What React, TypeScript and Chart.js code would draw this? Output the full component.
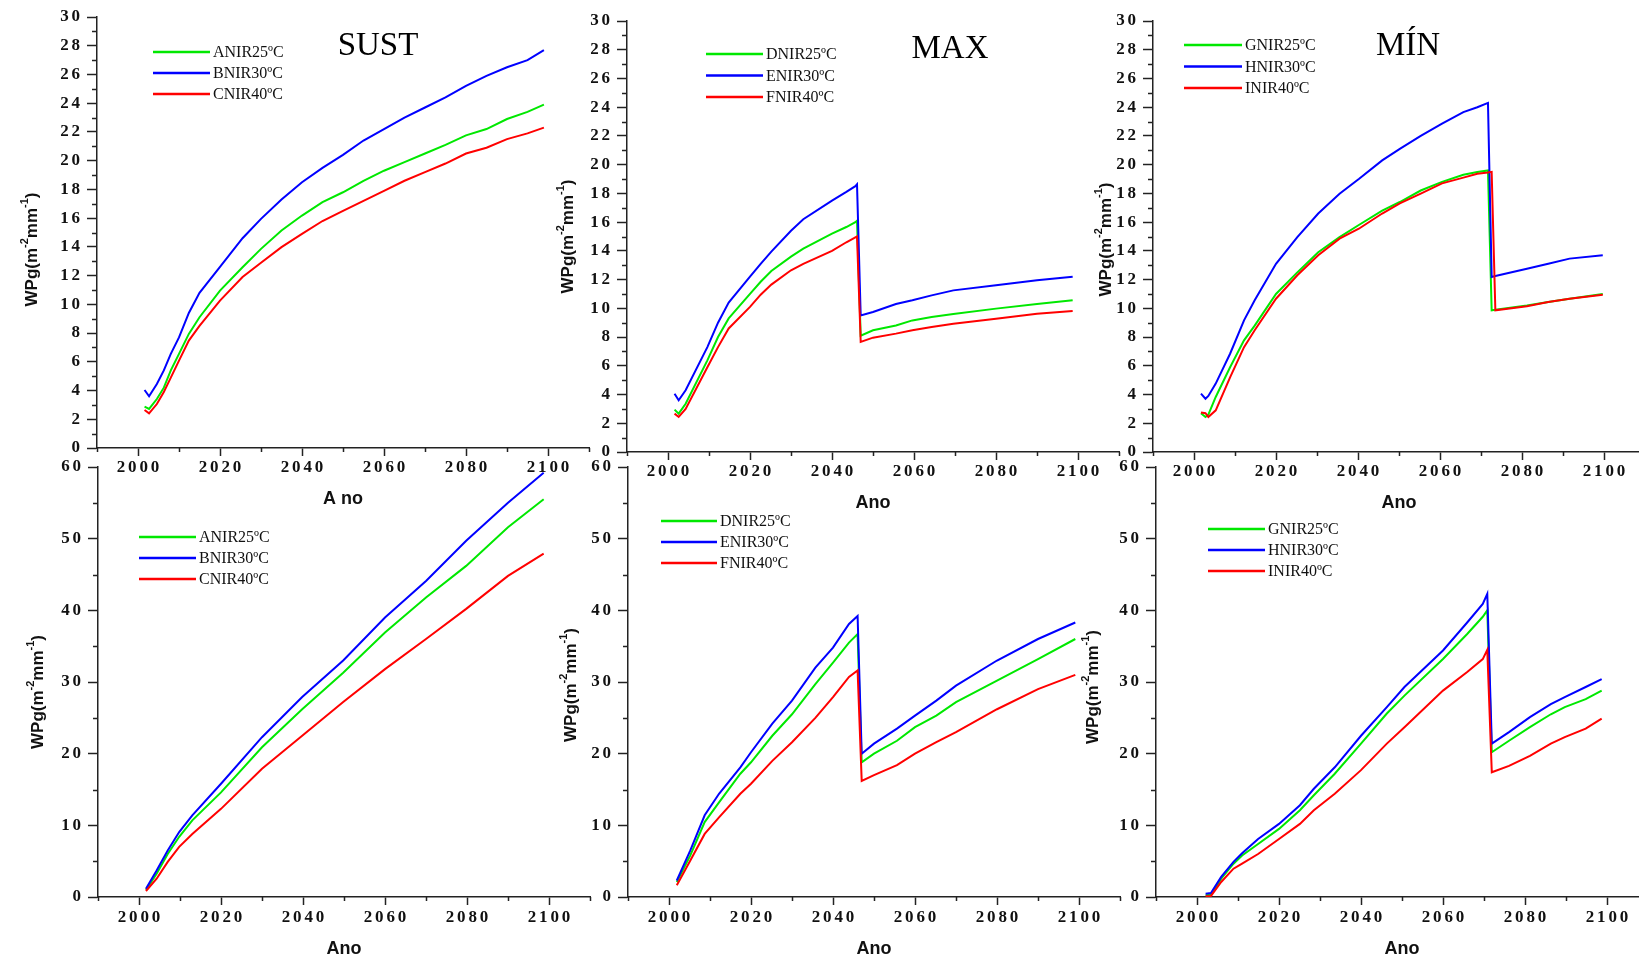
import React, { useEffect, useRef } from 'react';
import { Chart, registerables } from 'chart.js';

Chart.register(...registerables);

// ---------- tick values ----------
const X_MAJOR_TICKS = [2000, 2020, 2040, 2060, 2080, 2100];
const X_MINOR_TICKS = [1990, 2010, 2030, 2050, 2070, 2090, 2110];
const Y_TOP_MAJOR = [0, 2, 4, 6, 8, 10, 12, 14, 16, 18, 20, 22, 24, 26, 28, 30];
const Y_TOP_MINOR = [1, 3, 5, 7, 9, 11, 13, 15, 17, 19, 21, 23, 25, 27, 29];
const Y_BOT_MAJOR = [0, 10, 20, 30, 40, 50, 60];
const Y_BOT_MINOR = [5, 15, 25, 35, 45, 55];

// ---------- series labels ----------
const SUST_LABELS = ['ANIR25ºC', 'BNIR30ºC', 'CNIR40ºC'];
const MAX_LABELS = ['DNIR25ºC', 'ENIR30ºC', 'FNIR40ºC'];
const MIN_LABELS = ['GNIR25ºC', 'HNIR30ºC', 'INIR40ºC'];

// ---------- top row: SUST ----------
const TOP_SUST_YEARS = [2001.6, 2002.7, 2004.6, 2006.3, 2008, 2010, 2012.4, 2015, 2020, 2025.5, 2030, 2035, 2040, 2045, 2050, 2055, 2060, 2065, 2070, 2075, 2080, 2085, 2090, 2095, 2099];
const TOP_SUST_A = [2.88, 2.72, 3.41, 4.2, 5.4, 6.55, 7.94, 9.1, 10.96, 12.58, 13.86, 15.14, 16.18, 17.11, 17.8, 18.6, 19.3, 19.9, 20.5, 21.1, 21.76, 22.2, 22.9, 23.4, 23.9];
const TOP_SUST_B = [4.04, 3.6, 4.46, 5.4, 6.55, 7.7, 9.4, 10.8, 12.6, 14.6, 15.95, 17.3, 18.5, 19.5, 20.4, 21.4, 22.2, 23.0, 23.7, 24.4, 25.2, 25.9, 26.5, 27.0, 27.7];
const TOP_SUST_C = [2.65, 2.41, 3.06, 3.9, 4.9, 6.08, 7.48, 8.5, 10.26, 11.9, 12.9, 13.98, 14.9, 15.8, 16.5, 17.2, 17.9, 18.6, 19.2, 19.8, 20.5, 20.9, 21.5, 21.9, 22.3];

// ---------- top row: MAX ----------
const TOP_MAX_YEARS = [2001.6, 2002.6, 2004.3, 2009.6, 2012.2, 2014.8, 2020, 2022.6, 2025.2, 2030, 2033, 2040, 2043.5, 2045.7, 2046.1, 2047, 2050, 2055.6, 2059.6, 2064.3, 2069.6, 2080, 2090, 2098.7];
const TOP_MAX_D = [2.95, 2.67, 3.36, 6.38, 8.0, 9.3, 11.0, 11.85, 12.6, 13.6, 14.15, 15.2, 15.66, 16.0, 16.1, 8.1, 8.47, 8.8, 9.16, 9.4, 9.6, 9.98, 10.3, 10.56];
const TOP_MAX_E = [4.06, 3.6, 4.3, 7.3, 9.0, 10.4, 12.2, 13.1, 13.95, 15.4, 16.2, 17.5, 18.1, 18.5, 18.63, 9.5, 9.74, 10.3, 10.56, 10.9, 11.25, 11.6, 11.95, 12.2];
const TOP_MAX_F = [2.67, 2.44, 3.0, 5.9, 7.3, 8.6, 10.1, 10.95, 11.65, 12.65, 13.1, 14.0, 14.6, 14.94, 15.0, 7.66, 7.96, 8.24, 8.47, 8.7, 8.93, 9.28, 9.63, 9.81];

// ---------- top row: MÍN ----------
const TOP_MIN_YEARS = [2001.7, 2002.8, 2003.5, 2005.3, 2008.8, 2012.2, 2014.8, 2020, 2025.2, 2030.3, 2035.5, 2040.2, 2045.9, 2050.2, 2055.3, 2060.5, 2065.7, 2069.1, 2071.7, 2072.6, 2073.5, 2081.2, 2086.4, 2091.6, 2099.7];
const TOP_MIN_G = [2.7, 2.44, 2.6, 3.83, 5.9, 7.77, 8.8, 11.0, 12.5, 13.9, 14.96, 15.8, 16.8, 17.4, 18.2, 18.8, 19.3, 19.49, 19.6, 9.86, 9.9, 10.2, 10.44, 10.67, 11.0];
const TOP_MIN_H = [4.06, 3.71, 3.9, 4.76, 6.84, 9.16, 10.56, 13.1, 14.96, 16.6, 17.98, 19.0, 20.3, 21.1, 22.0, 22.85, 23.66, 24.0, 24.3, 12.18, 12.25, 12.76, 13.1, 13.46, 13.7];
const TOP_MIN_I = [2.75, 2.7, 2.44, 2.9, 5.2, 7.3, 8.47, 10.67, 12.3, 13.7, 14.85, 15.54, 16.6, 17.3, 17.98, 18.7, 19.1, 19.37, 19.45, 19.5, 9.86, 10.15, 10.44, 10.67, 10.95];

// ---------- bottom row: SUST ----------
const BOT_SUST_YEARS = [2001.7, 2004.3, 2007, 2009.8, 2013, 2020, 2030, 2039.8, 2049.8, 2060, 2070, 2079.8, 2090, 2098.7];
const BOT_SUST_A = [1.0, 3.25, 6.0, 8.4, 10.7, 14.6, 20.9, 26.2, 31.3, 36.9, 41.8, 46.2, 51.6, 55.5];
const BOT_SUST_B = [1.16, 3.7, 6.5, 9.06, 11.4, 15.8, 22.3, 27.9, 33.0, 39.0, 44.1, 49.7, 55.0, 59.2];
const BOT_SUST_C = [0.84, 2.55, 4.9, 7.0, 8.8, 12.3, 17.9, 22.5, 27.2, 31.8, 36.0, 40.2, 44.8, 47.9];

// ---------- bottom row: MAX ----------
const BOT_MAX_YEARS = [2001.9, 2005.2, 2008.7, 2012.2, 2017.4, 2020, 2025.2, 2030, 2035.7, 2040, 2043.9, 2046, 2047, 2050, 2055.6, 2060, 2065.2, 2070, 2080, 2090, 2099.1];
const BOT_MAX_D = [2.1, 5.8, 10.45, 13.2, 17.2, 18.8, 22.5, 25.5, 29.7, 32.7, 35.5, 36.7, 18.8, 20.0, 21.8, 23.7, 25.3, 27.2, 30.2, 33.2, 36.0];
const BOT_MAX_E = [2.3, 6.5, 11.4, 14.4, 18.1, 20.2, 24.2, 27.4, 32.0, 34.8, 38.1, 39.2, 20.0, 21.4, 23.5, 25.3, 27.4, 29.5, 33.0, 36.0, 38.3];
const BOT_MAX_F = [1.63, 5.1, 8.8, 11.1, 14.4, 15.8, 19.0, 21.6, 25.0, 27.9, 30.7, 31.6, 16.2, 17.0, 18.4, 20.0, 21.6, 23.0, 26.2, 29.0, 31.0];

// ---------- bottom row: MÍN ----------
const BOT_MIN_YEARS = [2002.1, 2003.4, 2005.9, 2008.9, 2011, 2014.9, 2020, 2025.1, 2028.5, 2033.6, 2040, 2046.3, 2050.6, 2060, 2065.9, 2069.7, 2070.8, 2071.9, 2076.1, 2081.2, 2086.3, 2089.7, 2094.8, 2098.7];
const BOT_MIN_G = [0.23, 0.3, 2.55, 4.65, 5.8, 7.4, 9.5, 12.1, 14.2, 17.2, 21.4, 25.6, 28.1, 33.2, 36.7, 39.1, 40.0, 20.2, 21.8, 23.7, 25.5, 26.5, 27.6, 28.8];
const BOT_MIN_H = [0.46, 0.56, 2.8, 4.9, 6.1, 8.1, 10.2, 12.8, 15.1, 18.1, 22.5, 26.5, 29.3, 34.4, 38.3, 40.9, 42.3, 21.4, 23.0, 25.1, 26.9, 27.9, 29.3, 30.4];
const BOT_MIN_I = [0.1, 0.15, 2.1, 3.95, 4.65, 6.0, 8.1, 10.2, 12.1, 14.4, 17.7, 21.4, 23.7, 28.8, 31.4, 33.2, 34.5, 17.4, 18.3, 19.7, 21.4, 22.3, 23.5, 24.9];

// ---------- styling ----------
const COLORS = ['#00e800', '#0000ff', '#ff0000'];
const AXIS = '#222';
const TEXT = '#111';
const SERIF = '"Liberation Serif", "Times New Roman", serif';
const SANS = '"Liberation Sans", Arial, sans-serif';
const PAD_L = 100;
const PAD_T = 25;
const PAD_R = 25;
const X_BOX = 70;

type Panel = {
  left: number; top: number; width: number; height: number;
  yMax: number; yMajor: number[]; yMinor: number[];
  years: number[]; series: number[][]; labels: string[];
  title?: string; titleX?: number; titleY?: number;
  xTitle: string; xTitleDy: number; xLabelPad: number;
  yTitleDx: number; yTitleDy: number;
  legend: { x: number; y: number; len: number; gap: number };
};

const PANELS: Panel[] = [
  { left: 97, top: 17, width: 492, height: 431, yMax: 30, yMajor: Y_TOP_MAJOR, yMinor: Y_TOP_MINOR,
    years: TOP_SUST_YEARS, series: [TOP_SUST_A, TOP_SUST_B, TOP_SUST_C], labels: SUST_LABELS,
    title: 'SUST', titleX: 281, titleY: 29, xTitle: 'A no', xTitleDy: 51, xLabelPad: 1,
    yTitleDx: 66, yTitleDy: 17, legend: { x: 56, y: 35, len: 57, gap: 21 } },
  { left: 627, top: 21, width: 492, height: 431, yMax: 30, yMajor: Y_TOP_MAJOR, yMinor: Y_TOP_MINOR,
    years: TOP_MAX_YEARS, series: [TOP_MAX_D, TOP_MAX_E, TOP_MAX_F], labels: MAX_LABELS,
    title: 'MAX', titleX: 323, titleY: 28, xTitle: 'Ano', xTitleDy: 51, xLabelPad: 1,
    yTitleDx: 60, yTitleDy: 0, legend: { x: 79, y: 33, len: 57, gap: 21.5 } },
  { left: 1153, top: 21, width: 492, height: 431, yMax: 30, yMajor: Y_TOP_MAJOR, yMinor: Y_TOP_MINOR,
    years: TOP_MIN_YEARS, series: [TOP_MIN_G, TOP_MIN_H, TOP_MIN_I], labels: MIN_LABELS,
    title: 'MÍN', titleX: 255, titleY: 25, xTitle: 'Ano', xTitleDy: 51, xLabelPad: 1,
    yTitleDx: 48, yTitleDy: 3, legend: { x: 31, y: 24, len: 58, gap: 21.5 } },
  { left: 98, top: 467, width: 492, height: 430, yMax: 60, yMajor: Y_BOT_MAJOR, yMinor: Y_BOT_MINOR,
    years: BOT_SUST_YEARS, series: [BOT_SUST_A, BOT_SUST_B, BOT_SUST_C], labels: SUST_LABELS,
    xTitle: 'Ano', xTitleDy: 52, xLabelPad: 2,
    yTitleDx: 61, yTitleDy: 10, legend: { x: 41, y: 70, len: 57, gap: 21 } },
  { left: 628, top: 467, width: 492, height: 430, yMax: 60, yMajor: Y_BOT_MAJOR, yMinor: Y_BOT_MINOR,
    years: BOT_MAX_YEARS, series: [BOT_MAX_D, BOT_MAX_E, BOT_MAX_F], labels: MAX_LABELS,
    xTitle: 'Ano', xTitleDy: 52, xLabelPad: 2,
    yTitleDx: 58, yTitleDy: 3, legend: { x: 33, y: 54, len: 56, gap: 21 } },
  { left: 1156, top: 467, width: 492, height: 430, yMax: 60, yMajor: Y_BOT_MAJOR, yMinor: Y_BOT_MINOR,
    years: BOT_MIN_YEARS, series: [BOT_MIN_G, BOT_MIN_H, BOT_MIN_I], labels: MIN_LABELS,
    xTitle: 'Ano', xTitleDy: 52, xLabelPad: 2,
    yTitleDx: 64, yTitleDy: 5, legend: { x: 52, y: 62, len: 57, gap: 21 } },
];

// digits separated by a narrow space, as in the original figure
const spaced = (v: number | string) => String(v).split('').join('\u2006');

function drawYTitle(ctx: CanvasRenderingContext2D, cx: number, cy: number) {
  const segs: { t: string; sup: boolean }[] = [
    { t: 'WPg(m', sup: false }, { t: '-2', sup: true }, { t: 'mm', sup: false },
    { t: '-1', sup: true }, { t: ')', sup: false },
  ];
  const mainFont = `bold 17px ${SANS}`;
  const supFont = `bold 11px ${SANS}`;
  let total = 0;
  const widths = segs.map((s) => {
    ctx.font = s.sup ? supFont : mainFont;
    const w = ctx.measureText(s.t).width;
    total += w;
    return w;
  });
  ctx.save();
  ctx.translate(cx, cy);
  ctx.rotate(-Math.PI / 2);
  ctx.fillStyle = TEXT;
  ctx.textBaseline = 'alphabetic';
  ctx.textAlign = 'left';
  let x = -total / 2;
  segs.forEach((s, i) => {
    ctx.font = s.sup ? supFont : mainFont;
    ctx.fillText(s.t, x, s.sup ? -3 : 6);
    x += widths[i];
  });
  ctx.restore();
}

function makeDecor(p: Panel) {
  return {
    id: 'decor',
    afterDraw(chart: any) {
      const ctx: CanvasRenderingContext2D = chart.ctx;
      const xs = chart.scales.x;
      const ys = chart.scales.y;
      const area = chart.chartArea;
      ctx.save();
      // minor ticks
      ctx.strokeStyle = AXIS;
      ctx.lineWidth = 1.5;
      ctx.beginPath();
      X_MINOR_TICKS.forEach((v) => {
        const px = Math.round(xs.getPixelForValue(v)) + 0.5;
        ctx.moveTo(px, area.bottom);
        ctx.lineTo(px, area.bottom + 4);
      });
      p.yMinor.forEach((v) => {
        const py = Math.round(ys.getPixelForValue(v)) + 0.5;
        ctx.moveTo(area.left, py);
        ctx.lineTo(area.left - 5, py);
      });
      ctx.stroke();

      // legend
      const ds = chart.data.datasets;
      ds.forEach((d: any, i: number) => {
        const y = area.top + p.legend.y + i * p.legend.gap;
        ctx.strokeStyle = d.borderColor;
        ctx.lineWidth = 2.5;
        ctx.beginPath();
        ctx.moveTo(area.left + p.legend.x, y);
        ctx.lineTo(area.left + p.legend.x + p.legend.len, y);
        ctx.stroke();
        ctx.fillStyle = TEXT;
        ctx.font = `16px ${SERIF}`;
        ctx.textAlign = 'left';
        ctx.textBaseline = 'middle';
        ctx.fillText(d.label, area.left + p.legend.x + p.legend.len + 3, y + 1);
      });

      // panel title
      if (p.title) {
        ctx.fillStyle = '#000';
        ctx.font = `33px ${SERIF}`;
        ctx.textAlign = 'center';
        ctx.textBaseline = 'middle';
        ctx.fillText(p.title, area.left + (p.titleX || 0), area.top + (p.titleY || 0));
      }

      // x title
      ctx.fillStyle = TEXT;
      ctx.font = `bold 18px ${SANS}`;
      ctx.textAlign = 'center';
      ctx.textBaseline = 'middle';
      ctx.fillText(p.xTitle, (area.left + area.right) / 2, area.bottom + p.xTitleDy);

      // y title
      drawYTitle(ctx, area.left - p.yTitleDx, (area.top + area.bottom) / 2 + p.yTitleDy);
      ctx.restore();
    },
  };
}

function PanelChart({ p }: { p: Panel }) {
  const ref = useRef<HTMLCanvasElement | null>(null);
  const cw = p.width + PAD_L + PAD_R;
  const ch = p.height + PAD_T + X_BOX;
  useEffect(() => {
    if (!ref.current) return;
    const datasets = p.series.map((vals, i) => ({
      label: p.labels[i],
      data: vals.map((v, k) => ({ x: p.years[k], y: v })),
      borderColor: COLORS[i],
      backgroundColor: COLORS[i],
      borderWidth: 2,
      pointRadius: 0,
      tension: 0,
      fill: false,
      order: 3 - i,
    }));
    const font = { family: SERIF, size: 17, weight: 'bold' as const };
    const chart = new Chart(ref.current, {
      type: 'line',
      data: { datasets },
      options: {
        responsive: false,
        animation: false,
        devicePixelRatio: 1,
        layout: { padding: { left: 0, top: PAD_T, right: PAD_R, bottom: 0 } },
        plugins: { legend: { display: false }, tooltip: { enabled: false }, title: { display: false } },
        scales: {
          x: {
            type: 'linear', min: 1990, max: 2110,
            afterBuildTicks: (s: any) => { s.ticks = X_MAJOR_TICKS.map((v) => ({ value: v })); },
            afterFit: (s: any) => { s.height = X_BOX; },
            grid: { display: true, drawOnChartArea: false, drawTicks: true, tickLength: 8, tickWidth: 1.5, tickColor: AXIS },
            border: { display: true, color: AXIS, width: 1.5 },
            ticks: { padding: p.xLabelPad, color: TEXT, font, maxRotation: 0, autoSkip: false, callback: (v: any) => spaced(v) },
          },
          y: {
            type: 'linear', min: 0, max: p.yMax,
            afterBuildTicks: (s: any) => { s.ticks = p.yMajor.map((v) => ({ value: v })); },
            afterFit: (s: any) => { s.width = PAD_L; },
            grid: { display: true, drawOnChartArea: false, drawTicks: true, tickLength: 10, tickWidth: 1.5, tickColor: AXIS },
            border: { display: true, color: AXIS, width: 1.5 },
            ticks: { padding: 7, color: TEXT, font, autoSkip: false, callback: (v: any) => spaced(v) },
          },
        },
      } as any,
      plugins: [makeDecor(p)],
    });
    return () => chart.destroy();
  }, [p]);
  return (
    <canvas
      ref={ref}
      width={cw}
      height={ch}
      style={{ position: 'absolute', left: p.left - PAD_L, top: p.top - PAD_T, width: cw, height: ch }}
    />
  );
}

export default function App() {
  return (
    <div style={{ position: 'absolute', left: 0, top: 0, width: 1639, height: 963, overflow: 'hidden', background: '#fff' }}>
      {PANELS.map((p, i) => <PanelChart key={i} p={p} />)}
    </div>
  );
}
